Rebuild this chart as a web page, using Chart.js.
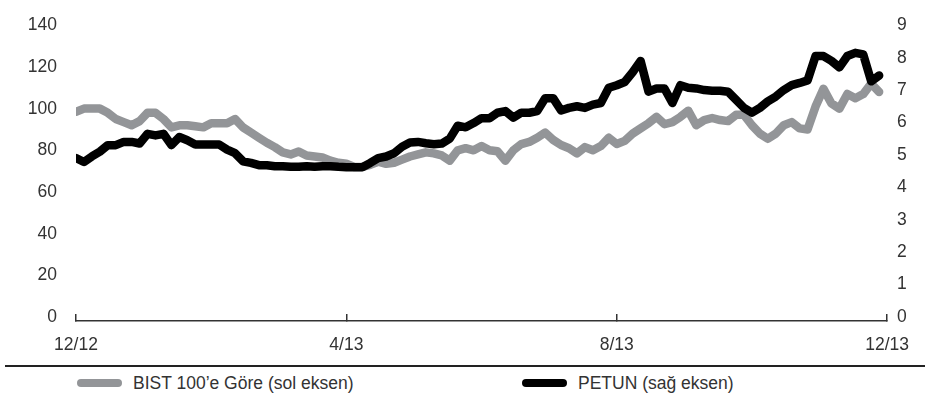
<!DOCTYPE html>
<html>
<head>
<meta charset="utf-8">
<script src="https://cdn.jsdelivr.net/npm/chart.js@4.4.0/dist/chart.umd.min.js"></script>
<style>
  body { margin: 0; background: #fff; font-family: "Liberation Sans", Arial, sans-serif; }
  #wrap { position: relative; width: 930px; height: 403px; }
  #chartBox { position: absolute; left: 0; top: 0; width: 930px; height: 360px; }
  #rule { position: absolute; left: 5px; top: 365px; width: 920px; border-top: 2px solid #222; }
  .item { position: absolute; top: 373px; height: 20px; line-height: 20px; font-size: 17.5px; color: #333; }
  .item .sw { position: absolute; left: 0; top: 6px; width: 45px; height: 8px; border-radius: 4px; }
  .item .tx { position: absolute; left: 56px; white-space: nowrap; }
</style>
</head>
<body>
<div id="wrap">
  <div id="chartBox"><canvas id="myChart"></canvas></div>
  <div id="rule"></div>
  <div id="legend"></div>
</div>
<script>
  // tick labels on the date axis (12/12 ... 12/13)
  var tickLabels = ["12/12", "4/13", "8/13", "12/13"];

  var seriesNames = ["BIST 100\u2019e G\u00f6re (sol eksen)", "PETUN (sa\u011f eksen)"];
  var colors = ["#939598", "#000000"];

  // relative to BIST 100, left axis (~2 trading days apart)
  var bist = [100.5, 102, 102, 102, 100, 97, 95.5, 94, 96, 100,
              100, 97, 93, 94, 94, 93.5, 93, 95, 95, 95,
              97, 93, 90.5, 88, 85.6, 83.5, 81, 80, 81.4, 79.5,
              79, 78.5, 77, 76, 75.5, 74, 74, 75, 76.5, 75.5,
              76, 77.5, 79, 80, 81, 80.5, 79.5, 77, 82, 83,
              82, 84, 82, 81.5, 77, 82, 85, 86, 88, 90.5,
              87, 84.5, 83, 80.5, 83.5, 82, 84, 88, 85, 86.5,
              90, 92.5, 95, 98, 94.5, 95.5, 98, 101, 94, 96.5,
              97.5, 96.5, 96, 99, 99, 94, 90, 87.5, 90, 94,
              95.5, 92.5, 92, 103, 111.5, 104.5, 102, 109, 107, 109,
              114, 110];

  // PETUN price, right axis
  var petun = [5.03, 4.91, 5.08, 5.23, 5.43, 5.43, 5.53, 5.53, 5.48, 5.78,
               5.73, 5.78, 5.43, 5.68, 5.58, 5.45, 5.45, 5.45, 5.45, 5.29,
               5.18, 4.93, 4.88, 4.81, 4.81, 4.78, 4.78, 4.76, 4.76, 4.78,
               4.76, 4.78, 4.78, 4.76, 4.75, 4.75, 4.75, 4.88, 5.03, 5.08,
               5.18, 5.38, 5.51, 5.53, 5.49, 5.46, 5.48, 5.63, 6.03, 5.98,
               6.11, 6.26, 6.26, 6.43, 6.48, 6.28, 6.43, 6.43, 6.48, 6.88,
               6.88, 6.5, 6.58, 6.63, 6.58, 6.68, 6.73, 7.2, 7.28, 7.38,
               7.68, 8.03, 7.08, 7.18, 7.18, 6.73, 7.28, 7.2, 7.18, 7.13,
               7.11, 7.11, 7.08, 6.83, 6.58, 6.43, 6.58, 6.78, 6.93, 7.13,
               7.28, 7.35, 7.43, 8.18, 8.18, 8.03, 7.83, 8.18, 8.28, 8.23,
               7.4, 7.58];

  var lastIndex = 102; // position of 12/13 on the x scale

  function points(arr) {
    return arr.map(function (v, i) { return { x: i, y: v }; });
  }

  var textColor = "#333";
  var tickFont = { family: "'Liberation Sans', Arial, sans-serif", size: 17.5 };

  var data = {
    datasets: [{
      label: seriesNames[0],
      data: points(bist),
      yAxisID: "yL",
      borderColor: colors[0],
      backgroundColor: colors[0],
      borderWidth: 8.5,
      order: 1
    }, {
      label: seriesNames[1],
      data: points(petun),
      yAxisID: "yR",
      borderColor: colors[1],
      backgroundColor: colors[1],
      borderWidth: 8.5,
      order: 0
    }]
  };

  const config = {
    type: "line",
    data,
    options: {
      responsive: true,
      maintainAspectRatio: false,
      animation: false,
      layout: { padding: { top: 21 } },
      elements: {
        point: { radius: 0 },
        line: { tension: 0, borderJoinStyle: "round", borderCapStyle: "round" }
      },
      plugins: { legend: { display: false }, tooltip: { enabled: false } },
      scales: {
        x: {
          type: "linear",
          min: 0,
          max: lastIndex,
          afterBuildTicks: function (s) {
            s.ticks = tickLabels.map(function (t, i) { return { value: i * lastIndex / 3 }; });
          },
          afterFit: function (s) { s.height = 39; },
          ticks: {
            callback: function (v, i) { return tickLabels[i]; },
            color: textColor, font: tickFont, padding: 21,
            maxRotation: 0, autoSkip: false
          },
          grid: { drawOnChartArea: false, tickLength: -7, color: "#333", lineWidth: 1.5 },
          border: { color: "#333", width: 1.5 }
        },
        yL: {
          position: "left",
          min: 0, max: 140,
          afterFit: function (s) { s.width = 76; },
          ticks: { stepSize: 20, color: textColor, font: tickFont, padding: 19, labelOffset: -4 },
          grid: { display: false, drawTicks: false },
          border: { display: false }
        },
        yR: {
          position: "right",
          min: 0, max: 9,
          afterFit: function (s) { s.width = 38; },
          ticks: { stepSize: 1, color: textColor, font: tickFont, padding: 10, labelOffset: -4 },
          grid: { display: false, drawTicks: false },
          border: { display: false }
        }
      }
    }
  };

  var myChart = new Chart(document.getElementById("myChart"), config);

  // legend under the rule line
  var legendLeft = [77, 522];
  var legendBox = document.getElementById("legend");
  seriesNames.forEach(function (name, i) {
    var item = document.createElement("div");
    item.className = "item";
    item.style.left = legendLeft[i] + "px";
    item.innerHTML = '<span class="sw" style="background:' + colors[i] + '"></span><span class="tx"></span>';
    item.querySelector(".tx").textContent = name;
    legendBox.appendChild(item);
  });
</script>
</body>
</html>
